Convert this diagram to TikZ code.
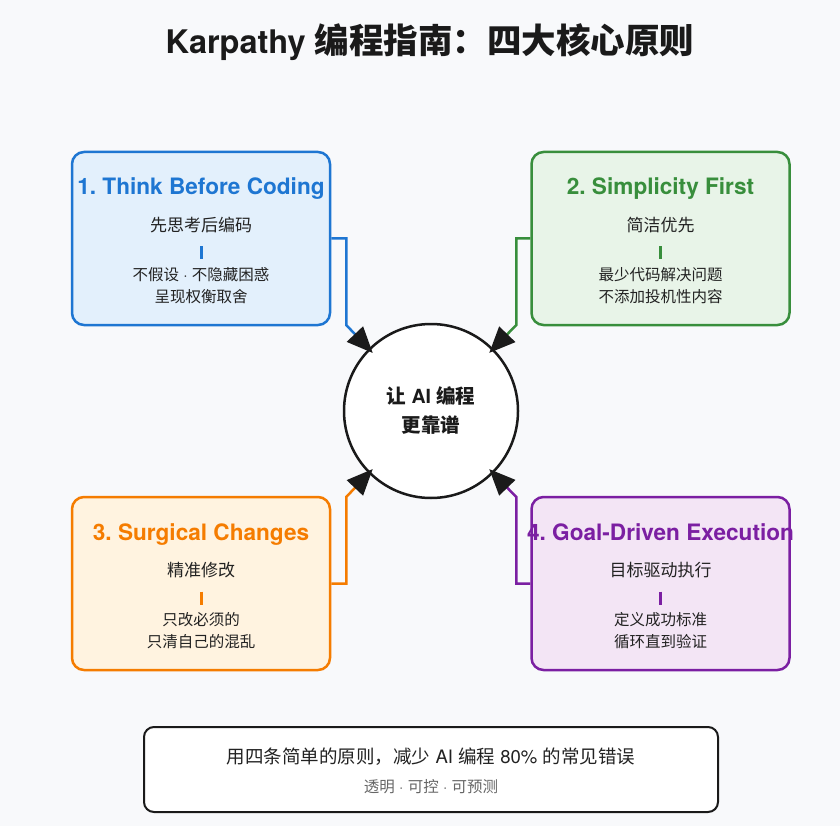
\documentclass[tikz,border=0pt]{standalone}
\usepackage{fontspec}
\setmainfont{Noto Sans CJK SC}
\newfontfamily\latin{TeX Gyre Heros}
\frenchspacing
\usetikzlibrary{arrows.meta}
\definecolor{bg}{HTML}{F8F9FB}
\definecolor{ink}{HTML}{1A1A1A}
\definecolor{txt}{HTML}{222222}
\definecolor{gry}{HTML}{666666}
\definecolor{cblue}{HTML}{1E76D2}
\definecolor{fblue}{HTML}{E3F0FC}
\definecolor{cgreen}{HTML}{388E3C}
\definecolor{fgreen}{HTML}{E8F4E8}
\definecolor{corange}{HTML}{F57C00}
\definecolor{forange}{HTML}{FFF3E0}
\definecolor{cpurple}{HTML}{7B1FA2}
\definecolor{fpurple}{HTML}{F3E5F5}
\tikzset{
  card/.style={draw, line width=2.5pt, rounded corners=12pt, minimum width=258pt, minimum height=173pt, inner sep=0pt},
  ttl/.style={font=\latin\bfseries\fontsize{22.6}{26}\selectfont\frenchspacing, inner sep=0pt, anchor=base},
  subt/.style={font=\fontsize{17}{20}\selectfont, text=txt, inner sep=0pt},
  bodyt/.style={font=\fontsize{15.5}{18}\selectfont, text=txt, inner sep=0pt},
  bar/.style={line width=3pt},
  conn/.style={line width=2.5pt, shorten >=-6pt, -{Triangle[length=26pt,width=22pt,color=ink,fill=ink]}},
}
\newcommand{\mycard}[9]{%
  % #1 name, #2 cx, #3 top y, #4 line color, #5 fill, #6 title, #7 sub, #8 line1, #9 line2
  \node[card, draw=#4, fill=#5] (#1) at (#2,#3+86.5) {};
  \node[ttl, text=#4] (#1t) at (#2,#3+43) {#6};
  \node[subt] (#1s) at (#2,#3+73) {#7};
  \draw[bar, #4] (#2,#3+94.5) -- (#2,#3+107.5);
  \node[bodyt] (#1a) at (#2,#3+123) {#8};
  \node[bodyt] (#1b) at (#2,#3+145) {#9};
}
\newcommand{\mdot}{{\latin\ ·\ }}
\begin{document}
\begin{tikzpicture}[x=1pt,y=-1pt]
\fill[bg] (0,0) rectangle (840,826);
\useasboundingbox (0,0) rectangle (840,826);
\node[font=\bfseries\fontsize{34.5}{40}\selectfont, text=ink, inner sep=0pt] (title) at (430,42) {{\latin\bfseries\fontsize{32.5}{38}\selectfont Karpathy\ }编程指南：四大核心原则};

\mycard{b1}{201}{152}{cblue}{fblue}{1. Think Before Coding}{先思考后编码}{不假设\mdot 不隐藏困惑}{呈现权衡取舍}
\mycard{b2}{660.5}{152}{cgreen}{fgreen}{2. Simplicity First}{简洁优先}{最少代码解决问题}{不添加投机性内容}
\mycard{b3}{201}{497}{corange}{forange}{3. Surgical Changes}{精准修改}{只改必须的}{只清自己的混乱}
\mycard{b4}{660.5}{497}{cpurple}{fpurple}{4. Goal-Driven Execution}{目标驱动执行}{定义成功标准}{循环直到验证}

\node[circle, draw=ink, fill=white, line width=2.5pt, minimum size=174pt, inner sep=0pt, align=center,
      font=\bfseries\fontsize{19.5}{29}\selectfont, text=ink] (hub) at (431,411) {让{\latin\bfseries\ AI\ }编程\\更靠谱};

\draw[conn, cblue] (b1.east) -- ++(15,0) -- ++(0,86.5) -- (hub.135);
\draw[conn, cgreen] (b2.west) -- ++(-14,0) -- ++(0,86.5) -- (hub.45);
\draw[conn, corange] (b3.east) -- ++(15,0) -- ++(0,-86.5) -- (hub.225);
\draw[conn, cpurple] (b4.west) -- ++(-14,0) -- ++(0,-86.5) -- (hub.-45);

\node[draw=ink, fill=white, line width=2pt, rounded corners=10pt, minimum width=574pt, minimum height=85pt, inner sep=0pt] (foot) at (431,769.5) {};
\node[font=\fontsize{18.5}{22}\selectfont, text=txt, inner sep=0pt] (foot1) at (431,757) {用四条简单的原则，减少{\latin\ AI\ }编程{\latin\ 80\%\ }的常见错误};
\node[font=\fontsize{15.5}{18}\selectfont, text=gry, inner sep=0pt] (foot2) at (431,787) {透明\mdot 可控\mdot 可预测};
\end{tikzpicture}
\end{document}
